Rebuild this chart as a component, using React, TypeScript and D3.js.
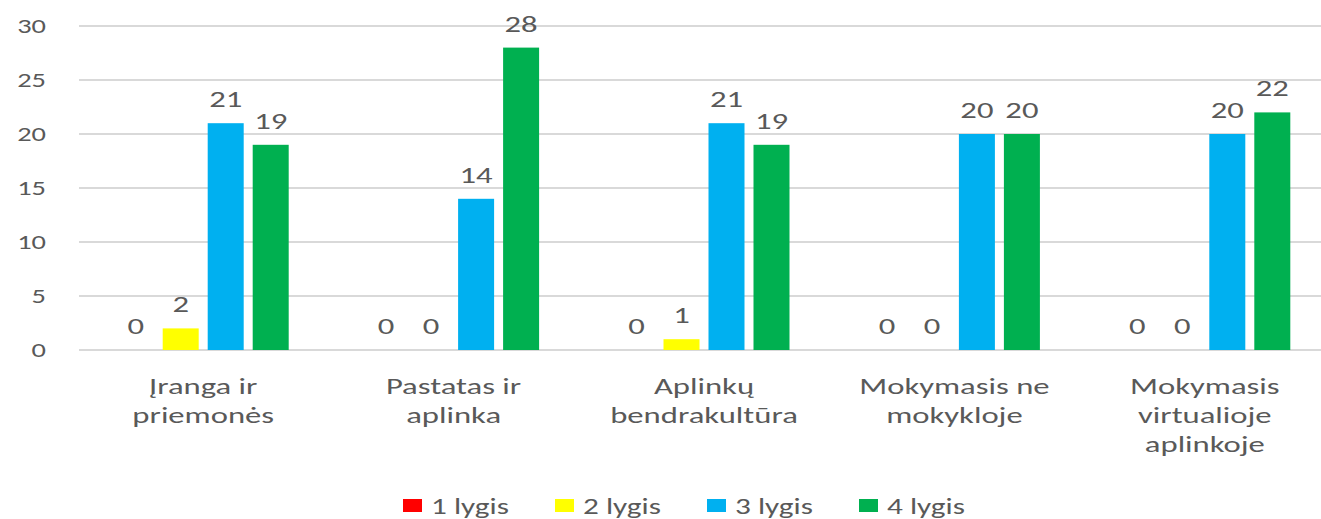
import React, { useEffect, useRef } from 'react';
import * as d3 from 'd3';

const categories = [
    ["Įranga ir", "priemonės"],
    ["Pastatas ir", "aplinka"],
    ["Aplinkų", "bendrakultūra"],
    ["Mokymasis ne", "mokykloje"],
    ["Mokymasis", "virtualioje", "aplinkoje"],
];
const seriesNames = ["1 lygis", "2 lygis", "3 lygis", "4 lygis"];
const seriesColors = ["#FF0000", "#FFFF00", "#00B0F0", "#00B050"];
const lygis1 = [0, 0, 0, 0, 0];
const lygis2 = [2, 0, 1, 0, 0];
const lygis3 = [21, 14, 21, 20, 20];
const lygis4 = [19, 28, 19, 20, 22];
const yTicks = [0, 5, 10, 15, 20, 25, 30];

const FONT = "Calibri, Carlito, Lato, sans-serif";
const TEXT = "#595959";
const SX = 1.42; // the picture is stretched sideways

const App = () => {
    const ref = useRef<HTMLDivElement>(null);

    useEffect(() => {
        const root = d3.select(ref.current);
        root.selectAll("*").remove();

        const width = 1321;
        const height = 519;

        const svg = root.append("svg")
            .attr("width", width)
            .attr("height", height)
            .style("position", "absolute")
            .style("left", 0)
            .style("top", 0)
            .style("font-family", FONT);

        const values = [lygis1, lygis2, lygis3, lygis4];
        const keys = categories.map(c => c.join(" "));

        const x0 = d3.scaleBand().domain(keys).range([78, 1330]);
        const x1 = d3.scaleBand().domain(seriesNames).range([0, 171]).paddingInner(0.2);
        const groupOffset = (x0.bandwidth() - 171) / 2;
        const y = d3.scaleLinear().domain([0, 30]).range([350, 26]);

        // gridlines
        svg.append("g")
            .selectAll("line")
            .data(yTicks)
            .enter()
            .append("line")
            .attr("x1", 79)
            .attr("x2", width)
            .attr("y1", d => y(d))
            .attr("y2", d => y(d))
            .attr("stroke", "#D9D9D9")
            .attr("stroke-width", 2);

        // y labels
        svg.append("g")
            .selectAll("text")
            .data(yTicks)
            .enter()
            .append("text")
            .attr("transform", d => `translate(46,${y(d)}) scale(${SX},1)`)
            .attr("text-anchor", "end")
            .attr("dy", "0.35em")
            .attr("font-size", 20)
            .attr("fill", TEXT)
            .text(d => d);

        // bars + labels
        const rows = [];
        keys.forEach((k, i) => {
            seriesNames.forEach((s, j) => {
                rows.push({ k, s, v: values[j][i], color: seriesColors[j] });
            });
        });

        svg.append("g")
            .selectAll("rect")
            .data(rows)
            .enter()
            .append("rect")
            .attr("x", d => x0(d.k) + groupOffset + x1(d.s))
            .attr("y", d => y(d.v))
            .attr("width", x1.bandwidth())
            .attr("height", d => y(0) - y(d.v))
            .attr("fill", d => d.color);

        svg.append("g")
            .selectAll("text")
            .data(rows)
            .enter()
            .append("text")
            .attr("transform", d => `translate(${x0(d.k) + groupOffset + x1(d.s) + x1.bandwidth() / 2},${y(d.v) - 16}) scale(${SX},1)`)
            .attr("text-anchor", "middle")
            .attr("font-size", 23)
            .attr("fill", TEXT)
            .text(d => d.v);

        // category labels
        const cat = svg.append("g")
            .selectAll("text")
            .data(categories)
            .enter()
            .append("text")
            .attr("transform", (d, i) => `translate(${x0(keys[i]) + x0.bandwidth() / 2},394) scale(${SX},1)`)
            .attr("text-anchor", "middle")
            .attr("font-size", 23)
            .attr("fill", TEXT);
        cat.selectAll("tspan")
            .data(d => d)
            .enter()
            .append("tspan")
            .attr("x", 0)
            .attr("dy", (d, i) => (i === 0 ? 0 : 29))
            .text(d => d);

        // legend
        const legend = svg.append("g")
            .selectAll("g")
            .data(seriesNames)
            .enter()
            .append("g")
            .attr("transform", (d, i) => `translate(${403 + i * 152},499)`);
        legend.append("rect")
            .attr("width", 19)
            .attr("height", 13)
            .attr("fill", (d, i) => seriesColors[i]);
        legend.append("text")
            .attr("transform", `translate(28,15) scale(${SX},1)`)
            .attr("font-size", 22)
            .attr("fill", TEXT)
            .text(d => d);
    }, []);

    return <div ref={ref}></div>;
};

export default App;
